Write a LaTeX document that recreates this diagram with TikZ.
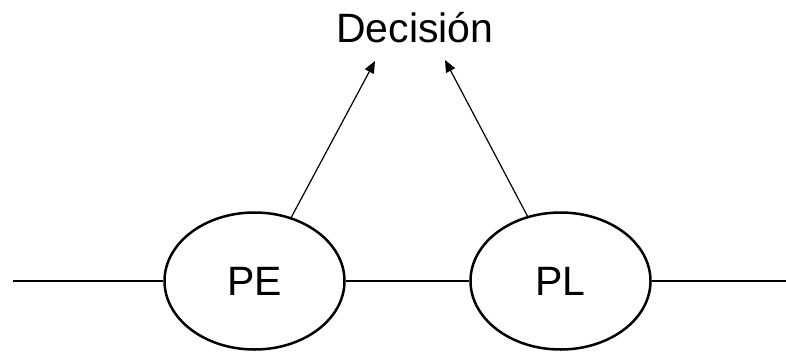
\documentclass[tikz,border=0pt]{standalone}
\usepackage{fontspec}
\setmainfont{Liberation Sans}
\usetikzlibrary{shapes.geometric,arrows.meta}
\begin{document}
\begin{tikzpicture}[x=1pt,y=-1pt,
  proc/.style={draw,ellipse,line width=2.5pt,minimum width=180pt,minimum height=137pt,inner sep=0pt,font=\fontsize{41}{46}\selectfont},
  wire/.style={line width=2.6pt},
  arr/.style={line width=1.2pt,-{Triangle[length=12pt,width=10pt]}}]
\useasboundingbox (0,0) rectangle (786,351);
\node[proc] (PE) at (254.5,281) {PE};
\node[proc] (PL) at (560.5,281) {PL};
\node[anchor=base,font=\fontsize{41}{46}\selectfont,inner sep=0pt] (dec) at (415,42) {Decisión};
\coordinate (L) at (13,281);
\coordinate (R) at (786,281);
\coordinate (tA) at (375,61);
\coordinate (tB) at (445,60);
\draw[wire] (L) -- (PE.west);
\draw[wire] (PE.east) -- (PL.west);
\draw[wire] (PL.east) -- (R);
\draw[arr] (PE.60.4) -- (tA);
\draw[arr] (PL.117.6) -- (tB);
\end{tikzpicture}
\end{document}
